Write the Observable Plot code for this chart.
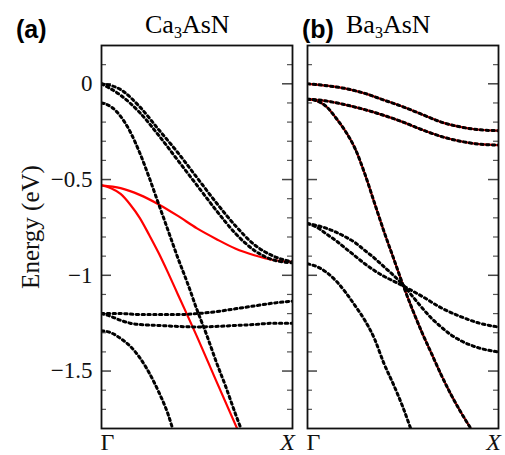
<!DOCTYPE html>
<html><head><meta charset="utf-8">
<script src="https://cdn.jsdelivr.net/npm/d3@7"></script>
<script src="https://cdn.jsdelivr.net/npm/@observablehq/plot@0.6"></script>
<style>
body{margin:0;background:#fff;}
#wrap{position:relative;width:505px;height:455px;overflow:hidden;background:#fff;}
#wrap svg{position:absolute;top:0;}
.lab{position:absolute;white-space:nowrap;line-height:1;}
.pl{font:bold 25px "Liberation Sans",Arial,sans-serif;}
.ti{font:26px "Liberation Serif","Times New Roman",serif;}
.ti sub{font-size:16px;vertical-align:-5px;line-height:0;}
</style></head><body><div id="wrap"></div>
<script>
// ---- axis data ----
const kTicks = [0, 1];
const kLabels = ["Γ", "X"];
const majorTicks = [0, -0.5, -1, -1.5];
const majorLabels = ["0", "−0.5", "−1", "−1.5"];
const minorTicks = [0.1, -0.1, -0.2, -0.3, -0.4, -0.6, -0.7, -0.8, -0.9, -1.1, -1.2, -1.3, -1.4, -1.6, -1.7];
const yDomain = [-1.8, 0.2];
const panelTags = ["(a)", "(b)"];
const compounds = [["Ca", "3", "AsN"], ["Ba", "3", "AsN"]];

// ---- (a) Ca3AsN bands [k, E] ----
const caDot1 = [[0,0],[0.1,-0.03],[0.2,-0.12],[0.3,-0.24],[0.4,-0.36],[0.5,-0.49],[0.6,-0.62],[0.7,-0.74],[0.8,-0.84],[0.9,-0.90],[1,-0.93]];
const caDot2 = [[0,0],[0.1,-0.06],[0.2,-0.15],[0.3,-0.27],[0.4,-0.40],[0.5,-0.53],[0.6,-0.66],[0.7,-0.78],[0.8,-0.87],[0.9,-0.92],[1,-0.935]];
const caDot3 = [[0,-0.10],[0.05,-0.12],[0.1,-0.17],[0.15,-0.25],[0.2,-0.36],[0.25,-0.49],[0.3,-0.63],[0.35,-0.77],[0.4,-0.91],[0.45,-1.04],[0.5,-1.18],[0.55,-1.31],[0.6,-1.45],[0.65,-1.58],[0.7,-1.72],[0.73,-1.80]];
const caDot4 = [[0,-1.20],[0.1,-1.20],[0.2,-1.205],[0.3,-1.205],[0.4,-1.205],[0.5,-1.20],[0.6,-1.19],[0.7,-1.175],[0.8,-1.16],[0.9,-1.145],[1,-1.135]];
const caDot5 = [[0,-1.20],[0.05,-1.215],[0.1,-1.235],[0.15,-1.25],[0.2,-1.257],[0.3,-1.262],[0.4,-1.267],[0.5,-1.27],[0.6,-1.267],[0.7,-1.262],[0.8,-1.257],[0.9,-1.25],[1,-1.25]];
const caDot6 = [[0,-1.29],[0.05,-1.30],[0.1,-1.33],[0.15,-1.37],[0.2,-1.43],[0.25,-1.51],[0.3,-1.61],[0.35,-1.73],[0.372,-1.80]];
const caRed1 = [[0,-0.53],[0.1,-0.545],[0.2,-0.58],[0.3,-0.63],[0.4,-0.69],[0.5,-0.755],[0.6,-0.81],[0.7,-0.86],[0.8,-0.895],[0.9,-0.92],[1,-0.93]];
const caRed2 = [[0,-0.53],[0.05,-0.545],[0.1,-0.575],[0.15,-0.63],[0.2,-0.70],[0.25,-0.79],[0.3,-0.885],[0.35,-0.99],[0.4,-1.10],[0.5,-1.32],[0.6,-1.55],[0.71,-1.80]];

// ---- (b) Ba3AsN bands [k, E] ----
const baBand1 = [[0,0],[0.1,-0.01],[0.2,-0.025],[0.3,-0.05],[0.4,-0.085],[0.5,-0.12],[0.6,-0.16],[0.7,-0.20],[0.8,-0.225],[0.9,-0.24],[1,-0.245]];
const baBand2 = [[0,-0.08],[0.1,-0.09],[0.2,-0.11],[0.3,-0.135],[0.4,-0.165],[0.5,-0.20],[0.6,-0.24],[0.7,-0.275],[0.8,-0.30],[0.9,-0.315],[1,-0.32]];
const baBand3 = [[0,-0.08],[0.05,-0.09],[0.1,-0.12],[0.15,-0.18],[0.2,-0.25],[0.25,-0.34],[0.3,-0.47],[0.35,-0.62],[0.4,-0.77],[0.45,-0.91],[0.5,-1.05],[0.55,-1.18],[0.6,-1.30],[0.65,-1.41],[0.7,-1.52],[0.75,-1.62],[0.8,-1.71],[0.855,-1.80]];
const baDot4 = [[0,-0.73],[0.05,-0.74],[0.1,-0.755],[0.15,-0.775],[0.2,-0.80],[0.25,-0.83],[0.3,-0.87],[0.35,-0.91],[0.4,-0.955],[0.45,-1.00],[0.5,-1.05],[0.55,-1.11],[0.6,-1.17],[0.65,-1.225],[0.7,-1.27],[0.75,-1.31],[0.8,-1.34],[0.9,-1.38],[1,-1.40]];
const baDot5 = [[0,-0.73],[0.05,-0.75],[0.1,-0.785],[0.15,-0.82],[0.2,-0.86],[0.25,-0.90],[0.3,-0.94],[0.35,-0.975],[0.4,-1.005],[0.45,-1.03],[0.5,-1.055],[0.6,-1.11],[0.7,-1.17],[0.8,-1.215],[0.9,-1.25],[1,-1.27]];
const baDot6 = [[0,-0.94],[0.05,-0.955],[0.1,-0.985],[0.15,-1.03],[0.2,-1.09],[0.25,-1.16],[0.3,-1.235],[0.35,-1.33],[0.4,-1.46],[0.45,-1.57],[0.5,-1.69],[0.54,-1.80]];

const panelDefs = [
  {red: [caRed1, caRed2], dotted: [caDot1, caDot2, caDot3, caDot4, caDot5, caDot6], left: 0, width: 300, mL: 101, mR: 8, showY: true},
  {red: [baBand1, baBand2, baBand3], dotted: [baBand1, baBand2, baBand3, baDot4, baDot5, baDot6], left: 300, width: 205, mL: 7, mR: 7, showY: false}
];

const serif = "Liberation Serif, Times New Roman, serif";
const wrap = document.getElementById("wrap");

panelDefs.forEach((p, pi) => {
  const W = p.width - p.mL - p.mR;
  const marks = [];
  const tickSides = [["insetRight", W - 10, W - 5], ["insetLeft", W - 10, W - 5]];
  for (const [side, majInset, minInset] of tickSides) {
    marks.push(Plot.ruleY(majorTicks, {y: d => d, [side]: majInset, stroke: "#444", strokeWidth: 1.5}));
    marks.push(Plot.ruleY(minorTicks, {y: d => d, [side]: minInset, stroke: "#555", strokeWidth: 1.2}));
  }
  for (const b of p.red) {
    marks.push(Plot.line(b, {x: d => d[0], y: d => d[1], stroke: "red", strokeWidth: 2.2, curve: "monotone-x", clip: true}));
  }
  for (const b of p.dotted) {
    marks.push(Plot.line(b, {x: d => d[0], y: d => d[1], stroke: "black", strokeWidth: 3, strokeDasharray: "2.4 3.4", curve: "monotone-x", clip: true}));
  }
  marks.push(Plot.frame({stroke: "#111", strokeWidth: 1.8}));
  if (p.showY) {
    marks.push(Plot.axisY(majorTicks, {anchor: "left", tickSize: 0, tickPadding: 9, tickFormat: d => majorLabels[majorTicks.indexOf(d)], fontSize: 23, fontFamily: serif, fill: "#111", label: null}));
    marks.push(Plot.text(["Energy (eV)"], {frameAnchor: "left", rotate: -90, dx: -71, dy: -10, fontSize: 25, fontFamily: serif, fill: "#111", textAnchor: "middle", lineAnchor: "middle"}));
  }
  marks.push(Plot.text([kLabels[0]], {x: [kTicks[0]], frameAnchor: "bottom", lineAnchor: "top", dy: 4, dx: 6, fontSize: 24, fontFamily: serif, fill: "#111"}));
  marks.push(Plot.text([kLabels[1]], {x: [kTicks[1]], frameAnchor: "bottom", lineAnchor: "top", dy: 4, dx: -5, fontSize: 24, fontFamily: serif, fontStyle: "italic", fill: "#111"}));

  const svg = Plot.plot({
    width: p.width, height: 455,
    marginLeft: p.mL, marginRight: p.mR, marginTop: 45, marginBottom: 27,
    x: {domain: [0, 1], axis: null},
    y: {domain: yDomain, axis: null},
    style: {background: "transparent", overflow: "visible", fontFamily: serif},
    marks
  });
  svg.style.left = p.left + "px";
  wrap.appendChild(svg);
});

// titles
const tagPos = [[16, 15], [302, 15]];
const titlePos = [[145, 10], [346, 10]];
panelTags.forEach((t, i) => {
  const d = document.createElement("div");
  d.className = "lab pl";
  d.textContent = t;
  d.style.left = tagPos[i][0] + "px"; d.style.top = tagPos[i][1] + "px";
  wrap.appendChild(d);
  const c = document.createElement("div");
  c.className = "lab ti";
  const [a, s, b] = compounds[i];
  c.append(a);
  const sub = document.createElement("sub"); sub.textContent = s; c.append(sub);
  c.append(b);
  c.style.left = titlePos[i][0] + "px"; c.style.top = titlePos[i][1] + "px";
  wrap.appendChild(c);
});
</script></body></html>
